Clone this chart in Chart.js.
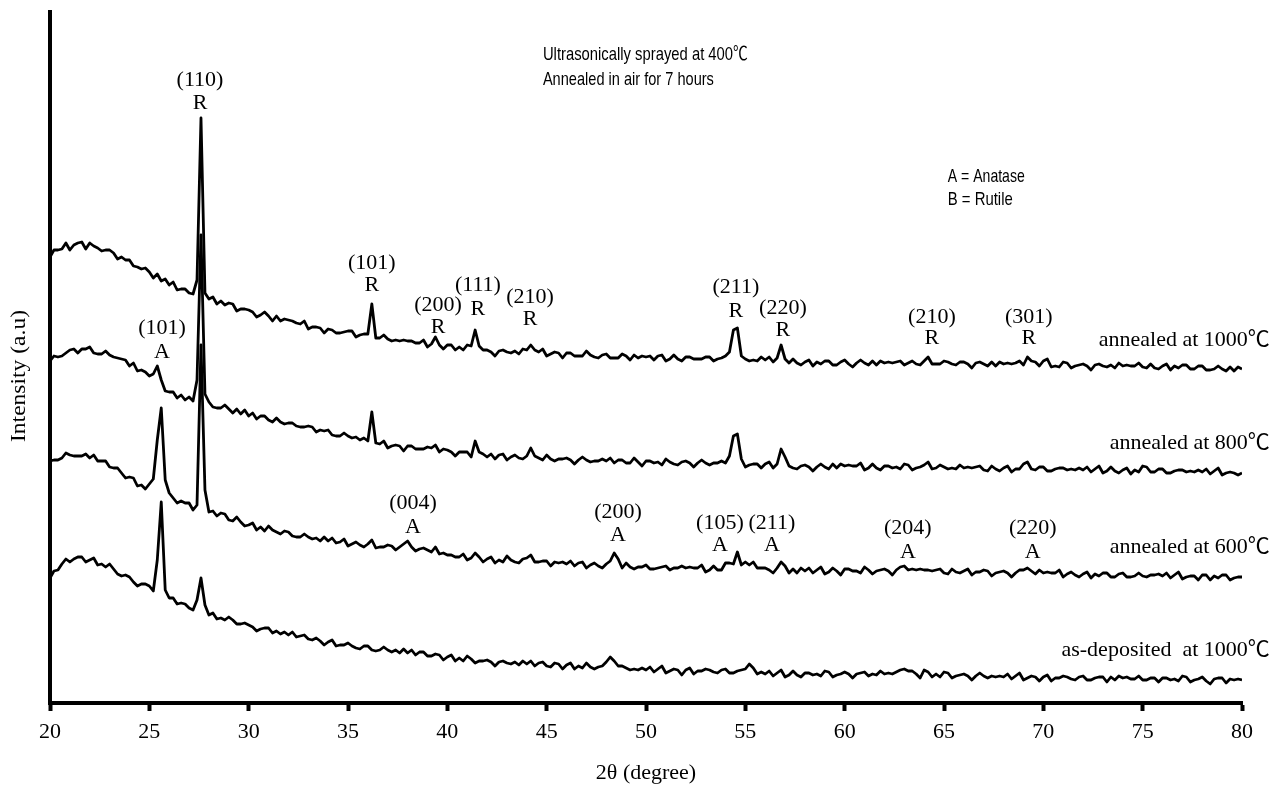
<!DOCTYPE html>
<html>
<head>
<meta charset="utf-8">
<script src="https://cdn.jsdelivr.net/npm/chart.js@4.4.1/dist/chart.umd.min.js"></script>
<style>
  html,body{margin:0;padding:0;background:#fff;overflow:hidden}
  canvas{display:block}
</style>
</head>
<body>
<canvas id="xrd" width="1272" height="786"></canvas>
<script>
// XRD patterns, TiO2 films — 4 traces stacked (intensity in a.u., offset already in values)
// sampling grid: 20..80 deg, step 0.2
const twoTheta = Array.from({length:301}, (_,i) => +(20 + i*0.2).toFixed(1));

const int1000 = [
  443,450,450,451,457,450,455,457,458,451,
  457,454,452,449,450,450,447,441,443,440,
  440,434,433,431,432,428,422,426,419,421,
  415,418,410,411,411,407,406,420,582,407,
  401,403,396,399,395,397,396,389,391,391,
  390,388,383,385,388,384,379,384,379,381,
  380,379,377,376,379,371,373,373,372,367,
  371,370,367,367,368,369,369,363,365,366,
  366,396,362,362,365,361,359,360,359,360,
  359,359,357,357,360,353,356,363,355,351,
  355,355,350,353,350,355,354,370,354,350,
  350,348,344,349,350,348,347,349,346,351,
  350,355,350,348,351,344,346,348,347,342,
  347,347,344,344,344,349,345,343,342,345,
  346,342,342,342,346,344,340,345,342,344,
  343,344,340,344,345,339,341,345,341,339,
  343,343,341,341,341,343,343,339,341,342,
  344,348,370,372,344,341,339,340,339,343,
  340,343,338,342,355,341,337,341,337,335,
  338,340,334,338,336,339,339,335,335,338,
  340,336,333,337,340,337,335,339,335,339,
  337,338,337,338,339,335,337,339,336,335,
  339,343,336,336,336,339,338,336,335,338,
  338,336,332,337,338,336,334,338,334,338,
  336,337,336,337,339,335,343,339,338,334,
  339,341,333,334,333,338,337,332,334,335,
  336,334,330,335,336,334,333,335,332,337,
  334,335,334,334,337,333,332,336,332,331,
  334,336,330,334,332,335,335,331,331,334,
  334,330,330,331,334,331,329,333,329,333,
  331
];

const int800 = [
  339,344,343,344,347,350,351,347,351,351,
  353,347,346,346,349,345,343,342,341,340,
  334,337,329,330,328,324,326,334,320,309,
  308,308,302,305,300,303,299,320,465,306,
  298,293,292,292,295,291,287,291,286,290,
  284,287,281,284,284,280,278,282,278,276,
  277,277,274,273,273,274,273,268,270,269,
  270,265,264,264,267,264,262,263,260,262,
  259,288,257,256,259,252,254,255,254,249,
  254,254,251,251,251,253,252,255,248,251,
  250,248,244,248,248,248,243,259,248,246,
  243,246,241,245,246,240,243,245,242,241,
  244,252,244,242,240,245,241,239,241,241,
  242,240,236,240,243,240,238,239,239,241,
  239,242,237,240,240,237,237,242,238,234,
  239,239,237,238,235,241,238,236,235,238,
  239,237,233,237,240,237,235,237,237,239,
  237,244,264,266,241,233,235,236,236,232,
  236,238,232,236,251,243,234,232,231,234,
  235,233,229,233,236,233,231,236,232,236,
  234,235,234,234,237,230,232,236,232,230,
  234,234,232,233,231,236,235,230,232,233,
  235,238,231,232,235,233,231,232,231,235,
  232,233,232,233,234,230,229,234,231,229,
  232,234,228,231,231,236,238,231,230,233,
  233,229,229,231,232,232,230,231,230,232,
  230,233,228,231,234,227,229,233,229,227,
  230,232,226,230,228,234,233,228,228,231,
  231,227,227,229,230,230,228,229,228,230,
  228,231,226,229,232,225,227,228,227,225,
  227
];

const int600 = [
  239,240,240,242,247,245,244,244,244,246,
  242,245,239,239,239,233,232,232,227,222,
  223,222,214,215,211,216,221,260,292,220,
  207,202,197,199,197,197,190,195,355,210,
  188,189,184,187,186,180,179,183,178,174,
  175,177,170,173,169,174,170,168,166,169,
  168,164,163,163,166,163,161,162,159,163,
  159,162,157,158,161,154,156,158,155,153,
  156,160,152,153,153,155,154,150,153,156,
  159,153,149,151,152,150,148,153,146,147,
  145,145,143,143,146,140,142,147,143,138,
  141,143,137,140,138,144,140,138,137,141,
  142,145,138,138,139,139,134,138,137,138,
  136,139,134,137,138,132,135,137,134,132,
  136,139,147,141,132,137,133,131,133,133,
  135,131,131,132,133,134,130,132,132,134,
  132,133,132,132,135,128,130,134,130,130,
  137,137,136,148,135,138,135,138,132,132,
  132,130,127,132,138,134,127,131,127,132,
  129,132,127,130,133,126,128,132,129,125,
  131,131,129,129,127,133,130,126,129,130,
  131,129,125,130,133,134,130,131,130,131,
  130,130,129,130,131,127,126,131,128,127,
  129,131,125,128,128,130,129,124,127,128,
  129,127,123,127,130,130,132,129,126,130,
  127,128,127,127,130,123,126,128,125,123,
  126,128,122,126,124,127,127,123,123,126,
  127,123,123,124,127,124,123,125,125,126,
  124,127,122,125,128,121,123,124,124,120,
  125,125,120,124,122,125,125,120,122,123,
  123
];

const intAsDep = [
  122,129,130,136,141,138,141,143,143,138,
  140,142,135,136,133,136,131,126,124,125,
  123,118,114,116,116,114,109,140,198,110,
  102,102,96,97,96,92,90,100,122,95,
  85,87,81,82,80,83,80,76,76,77,
  75,73,69,71,72,72,67,69,66,68,
  65,68,63,64,65,61,60,62,59,55,
  58,60,54,55,55,57,54,52,51,54,
  54,50,49,50,53,50,48,50,47,51,
  47,50,45,48,48,44,44,46,45,40,
  43,45,39,42,39,44,41,37,39,39,
  40,38,34,38,39,37,36,38,35,39,
  36,39,34,37,38,34,33,37,36,31,
  35,37,31,34,32,37,33,31,33,34,
  38,43,39,34,34,32,30,31,30,32,
  30,33,28,31,34,27,29,31,30,25,
  30,32,26,29,29,31,30,28,27,30,
  31,27,27,29,30,31,36,32,26,28,
  26,29,24,27,30,23,25,29,25,23,
  27,27,25,26,24,29,28,23,25,26,
  28,26,22,26,27,28,24,26,25,29,
  26,27,26,28,30,31,29,29,26,22,
  30,28,23,26,23,28,27,22,24,25,
  26,24,20,24,27,24,22,24,23,24,
  23,26,21,24,27,20,22,24,23,19,
  23,25,19,22,22,24,23,21,20,23,
  24,20,20,22,23,23,18,23,20,24,
  22,23,21,21,24,20,20,22,22,18,
  22,22,20,21,19,24,23,18,20,21,
  23,19,16,21,22,22,17,21,20,21,
  20
];

const seriesNames = ['annealed at 1000℃', 'annealed at 800℃', 'annealed at 600℃', 'as-deposited  at 1000℃'];
const seriesLabelY = [360, 257, 153, 50];

// peak labels: [hkl, phase, 2θ, y of hkl line, y of phase line]
const peakLabels = [
  ['(110)','R',27.55,620,597],
  ['(101)','R',36.2,437,415],
  ['(101)','A',25.64,372,348],
  ['(200)','R',39.53,395,373],
  ['(111)','R',41.54,415,391],
  ['(210)','R',44.16,403,381],
  ['(211)','R',54.52,413,389],
  ['(220)','R',56.89,392,370],
  ['(210)','R',64.39,383,362],
  ['(301)','R',69.27,383,362],
  ['(004)','A',38.27,197,173],
  ['(200)','A',48.59,188,165],
  ['(105)','A',53.72,177,155],
  ['(211)','A',56.34,177,155],
  ['(204)','A',63.18,172,148],
  ['(220)','A',69.47,172,148]
];

const notes = ['Ultrasonically sprayed at 400℃', 'Annealed in air for 7 hours'];
const legendNotes = ['A = Anatase', 'B = Rutile'];

const SERIF = '"Liberation Serif", "Noto Sans CJK SC", serif';
const NARROW = '"Liberation Sans Narrow", "Liberation Sans", "Noto Sans CJK SC", sans-serif';

function txt(ctx, s, px, py, font, align, w, rot){
  ctx.save();
  ctx.font = font;
  ctx.textAlign = align || 'center';
  ctx.textBaseline = 'middle';
  ctx.fillStyle = '#000';
  ctx.translate(px, py);
  if (rot) ctx.rotate(rot);
  if (w) { const m = ctx.measureText(s).width; ctx.scale(w / m, 1); }
  ctx.fillText(s, 0, 0);
  ctx.restore();
}

const labelsPlugin = {
  id: 'xrdLabels',
  afterDraw(chart){
    const {ctx, scales:{x, y}} = chart;
    for (const [hkl, ph, tt, y1, y2] of peakLabels){
      txt(ctx, hkl, x.getPixelForValue(tt), y.getPixelForValue(y1), '22px ' + SERIF);
      txt(ctx, ph,  x.getPixelForValue(tt), y.getPixelForValue(y2), '22px ' + SERIF);
    }
    seriesNames.forEach((n,i) => {
      txt(ctx, n, x.getPixelForValue(81.4), y.getPixelForValue(seriesLabelY[i]), '22px ' + SERIF, 'right');
    });
    txt(ctx, notes[0], x.getPixelForValue(44.81), y.getPixelForValue(645), '19px ' + NARROW, 'left', 205);
    txt(ctx, notes[1], x.getPixelForValue(44.81), y.getPixelForValue(620), '19px ' + NARROW, 'left', 171);
    txt(ctx, legendNotes[0], x.getPixelForValue(65.19), y.getPixelForValue(523), '19px ' + NARROW, 'left', 77);
    txt(ctx, legendNotes[1], x.getPixelForValue(65.19), y.getPixelForValue(500), '19px ' + NARROW, 'left', 65);
    // y axis title
    txt(ctx, 'Intensity (a.u)', 19, y.getPixelForValue(324), '22px ' + SERIF, 'center', 132, -Math.PI/2);
  }
};

const mk = (vals) => ({
  data: twoTheta.map((t,i) => ({x:t, y:vals[i]})),
  borderColor:'#000', borderWidth:2.8, pointRadius:0, tension:0,
  borderJoinStyle:'round', fill:false
});

new Chart(document.getElementById('xrd'), {
  type:'line',
  data:{ datasets:[ mk(int1000), mk(int800), mk(int600), mk(intAsDep) ] },
  options:{
    responsive:false, animation:false, devicePixelRatio:1,
    layout:{ padding:{ top:12, right:30, left:0, bottom:0 } },
    plugins:{ legend:{display:false}, tooltip:{enabled:false} },
    scales:{
      x:{
        type:'linear', min:20, max:80,
        ticks:{ stepSize:5, color:'#000', padding:8, font:{family:SERIF, size:22} },
        grid:{ drawOnChartArea:false, drawTicks:true, tickLength:8, tickWidth:4, tickColor:'#000' },
        border:{ display:true, color:'#000', width:4 },
        title:{ display:true, text:'2θ (degree)', color:'#000', font:{family:SERIF, size:22}, padding:{top:0, bottom:0} },
        afterFit: s => { s.height = 83; }
      },
      y:{
        min:-3, max:688,
        ticks:{ display:false },
        grid:{ display:false },
        border:{ display:true, color:'#000', width:4 },
        afterFit: s => { s.width = 50; }
      }
    }
  },
  plugins:[labelsPlugin]
});
</script>
</body>
</html>
